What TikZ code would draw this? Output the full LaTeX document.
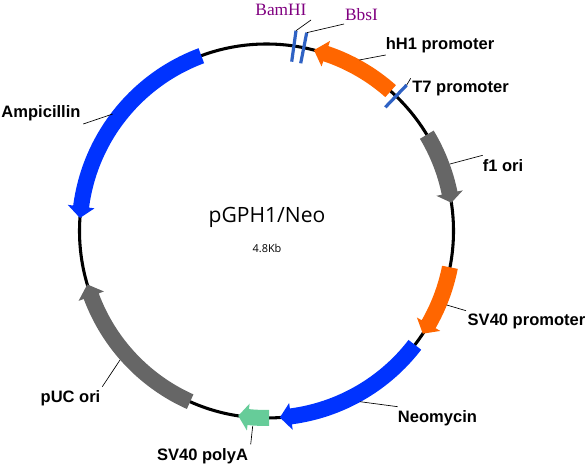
\documentclass[tikz,border=0pt]{standalone}
\usepackage{fontspec}
\setmainfont{Liberation Sans}
\newfontfamily\sitefont{Liberation Serif}
\newfontfamily\namefont{Open Sans}
\usetikzlibrary{positioning}
\definecolor{ampblue}{HTML}{0033FF}
\definecolor{oriorange}{HTML}{FF6600}
\definecolor{origray}{HTML}{666666}
\definecolor{polygreen}{HTML}{66CC99}
\definecolor{siteblue}{HTML}{2F62C4}
\definecolor{sitepurple}{HTML}{800080}
% tail angle, head base angle, tip angle
\newcommand{\genearc}[4]{
  \fill[#1] (#2:179) arc[start angle=#2,end angle=#3,radius=179]
    -- (#3:173.5) -- (#4:187) -- (#3:200.5) -- (#3:195)
    arc[start angle=#3,end angle=#2,radius=195] -- cycle;
}
\begin{document}
\begin{tikzpicture}[
  x=0.75pt,y=0.75pt,
  lab/.style={font=\bfseries\fontsize{12.4}{14}\selectfont,inner sep=0pt},
  sitelab/.style={font=\sitefont\fontsize{13}{15}\selectfont,text=sitepurple,inner sep=0pt},
  leader/.style={draw=black,line width=0.5pt},
  sitetick/.style={draw=siteblue,line width=2.4pt}
]
\useasboundingbox (0,0) rectangle (588,467);

\begin{scope}[shift={(266.5,236)}]
\node[draw=black,line width=2.3pt,circle,minimum size=280.5pt,inner sep=0pt] (plasmid) at (0,0) {};

\genearc{ampblue}{110.4}{172.5}{176}
\genearc{oriorange}{48.4}{71.5}{75.3}
\genearc{origray}{31}{11.7}{8.7}
\genearc{oriorange}{-11.2}{-29.9}{-33.3}
\genearc{ampblue}{-37.5}{-82.5}{-85.9}
\genearc{polygreen}{-89.2}{-95.6}{-98.7}
\genearc{origray}{245.9}{200.4}{196.6}
\end{scope}

\node[font=\namefont\fontsize{15.8}{18}\selectfont,inner sep=0pt] (name) at (267,250) {pGPH1/Neo};
\node[font=\namefont\fontsize{8.2}{10}\selectfont,inner sep=0pt] (size) at (267,219) {4.8Kb};

\node[sitelab] (bam) at (281,457) {BamHI};
\node[sitelab] (bbs) at (361.5,452) {BbsI};
\node[lab] (hh) at (440,422) {hH1 promoter};
\node[lab] (tseven) at (460.5,378) {T7 promoter};
\node[lab] (fone) at (503,301) {f1 ori};
\node[lab] (svp) at (526.5,146) {SV40 promoter};
\node[lab] (neo) at (437.5,49) {Neomycin};
\node[lab] (svpa) at (202.5,11) {SV40 polyA};
\node[lab] (puc) at (70.5,69) {pUC ori};
\node[lab] (amp) at (41,354) {Ampicillin};

\coordinate (bama) at (291.7,405.3);
\coordinate (bamb) at (296,436.3);
\coordinate (bbsa) at (300.7,403.7);
\coordinate (bbsb) at (306.7,434.3);
\coordinate (ta) at (385.3,359.7);
\coordinate (tb) at (406.7,382);
\draw[sitetick] (bama) -- (bamb);
\draw[sitetick] (bbsa) -- (bbsb);
\draw[sitetick] (ta) -- (tb);

\coordinate (bamc) at (311,447);
\coordinate (bbsc) at (344,443);
\coordinate (hhb) at (359.3,407);
\coordinate (hhc) at (385.7,412);
\coordinate (tc) at (410.7,388.7);
\coordinate (foneb) at (450,303);
\coordinate (fonec) at (482.7,311.7);
\coordinate (svpb) at (446.7,162);
\coordinate (svpc) at (466,156.3);
\coordinate (neob) at (360,65.3);
\coordinate (neoc) at (397.7,60.3);
\coordinate (svpab) at (252.7,41);
\coordinate (svpac) at (250.7,22.7);
\coordinate (pucb) at (120,107);
\coordinate (pucc) at (102.3,80.3);
\coordinate (ampb) at (112.7,353);
\coordinate (ampc) at (83.3,343);

\draw[leader] (bamb) -- (bamc);
\draw[leader] (bbsb) -- (bbsc);
\draw[leader] (hhb) -- (hhc);
\draw[leader] (tb) -- (tc);
\draw[leader] (foneb) -- (fonec);
\draw[leader] (svpb) -- (svpc);
\draw[leader] (neob) -- (neoc);
\draw[leader] (svpab) -- (svpac);
\draw[leader] (pucb) -- (pucc);
\draw[leader] (ampb) -- (ampc);
\end{tikzpicture}
\end{document}
